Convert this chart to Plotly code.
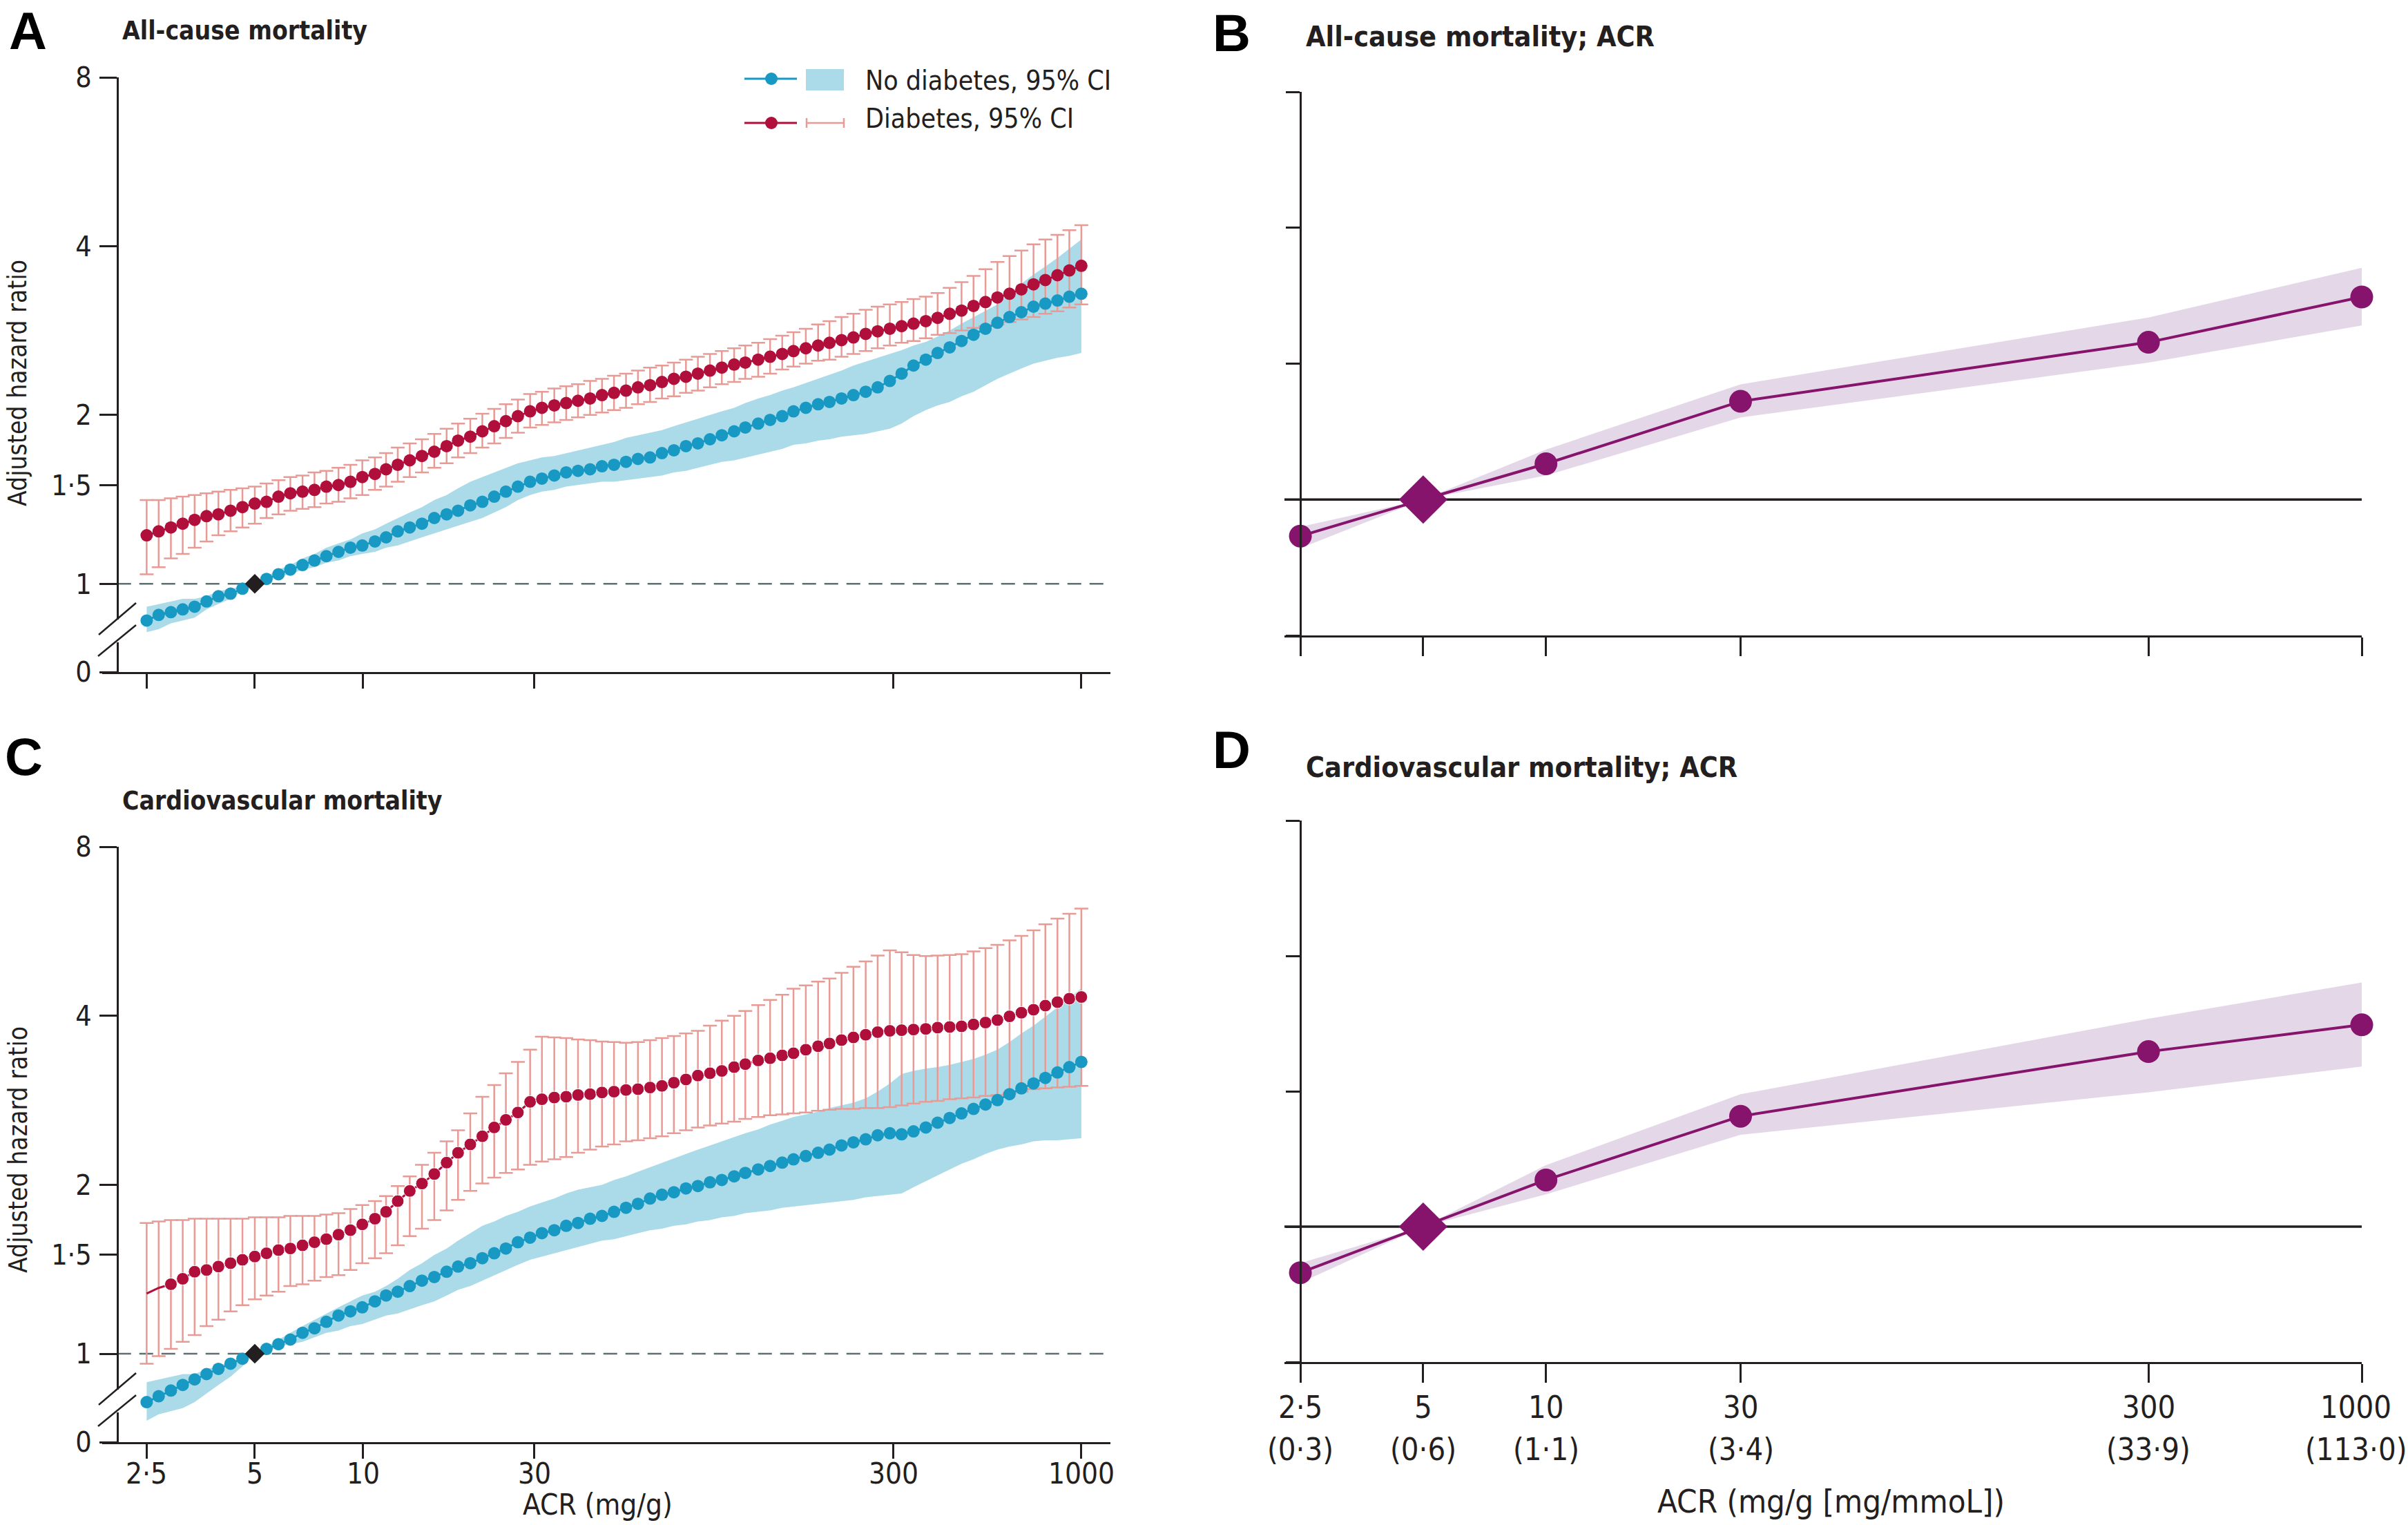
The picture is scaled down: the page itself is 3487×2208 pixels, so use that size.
import math
import plotly.graph_objects as go

W, H = 3487, 2208

# ---- data --------------------------------------------------------------
acr = [2.5, 2.7, 2.92, 3.15, 3.4, 3.67, 3.96, 4.28, 4.62, 5,
       5.39, 5.82, 6.28, 6.79, 7.33, 7.91, 8.55, 9.23, 9.96, 10.8,
       11.6, 12.5, 13.5, 14.6, 15.8, 17.1, 18.4, 19.9, 21.5, 23.2,
       25.0, 27.0, 29.2, 31.5, 34.1, 36.8, 39.7, 42.9, 46.3, 50.0,
       54.0, 58.3, 63.0, 68.0, 73.4, 79.3, 85.6, 92.5, 99.8, 108,
       116, 126, 136, 147, 158, 171, 185, 199, 215, 232,
       251, 271, 293, 316, 341, 369, 398, 430, 464, 501,
       541, 584, 631, 681, 736, 794, 858, 926, 1000]

# A: all-cause mortality
a_nodm = [0.86, 0.88, 0.89, 0.90, 0.91, 0.93, 0.95, 0.96, 0.98, 1.00,
          1.02, 1.04, 1.06, 1.08, 1.10, 1.12, 1.14, 1.16, 1.17, 1.19,
          1.21, 1.24, 1.26, 1.28, 1.31, 1.33, 1.35, 1.38, 1.40, 1.43,
          1.46, 1.49, 1.52, 1.54, 1.56, 1.58, 1.59, 1.60, 1.62, 1.63,
          1.65, 1.67, 1.68, 1.71, 1.73, 1.76, 1.78, 1.81, 1.84, 1.87,
          1.90, 1.93, 1.96, 1.99, 2.03, 2.06, 2.09, 2.11, 2.14, 2.17,
          2.20, 2.24, 2.30, 2.37, 2.45, 2.51, 2.58, 2.64, 2.71, 2.78,
          2.85, 2.92, 2.99, 3.05, 3.12, 3.16, 3.20, 3.25, 3.29]
a_nodm_lo = [0.82, 0.83, 0.85, 0.86, 0.87, 0.90, 0.92, 0.94, 0.97, 1.00,
             1.01, 1.03, 1.04, 1.06, 1.07, 1.09, 1.10, 1.12, 1.13, 1.14,
             1.16, 1.17, 1.19, 1.21, 1.23, 1.25, 1.27, 1.29, 1.31, 1.34,
             1.37, 1.41, 1.44, 1.46, 1.47, 1.49, 1.50, 1.51, 1.52, 1.52,
             1.53, 1.54, 1.55, 1.56, 1.58, 1.59, 1.61, 1.63, 1.65, 1.66,
             1.68, 1.70, 1.72, 1.74, 1.77, 1.78, 1.80, 1.81, 1.83, 1.84,
             1.85, 1.87, 1.89, 1.93, 1.99, 2.04, 2.08, 2.11, 2.16, 2.20,
             2.26, 2.32, 2.37, 2.42, 2.47, 2.50, 2.53, 2.55, 2.58]
a_nodm_hi = [0.91, 0.92, 0.93, 0.94, 0.94, 0.95, 0.97, 0.98, 0.99, 1.00,
             1.03, 1.06, 1.08, 1.11, 1.13, 1.16, 1.18, 1.20, 1.23, 1.25,
             1.28, 1.31, 1.34, 1.37, 1.41, 1.44, 1.48, 1.52, 1.55, 1.58,
             1.61, 1.64, 1.66, 1.68, 1.69, 1.71, 1.73, 1.75, 1.77, 1.79,
             1.82, 1.84, 1.86, 1.88, 1.91, 1.94, 1.97, 2.00, 2.03, 2.06,
             2.10, 2.14, 2.17, 2.21, 2.24, 2.28, 2.32, 2.36, 2.40, 2.45,
             2.49, 2.53, 2.57, 2.61, 2.66, 2.70, 2.76, 2.83, 2.91, 2.99,
             3.07, 3.15, 3.29, 3.43, 3.56, 3.68, 3.81, 3.96, 4.11]
a_dm = [1.22, 1.24, 1.26, 1.28, 1.30, 1.32, 1.33, 1.35, 1.37, 1.39,
        1.40, 1.43, 1.45, 1.46, 1.47, 1.49, 1.50, 1.52, 1.55, 1.57,
        1.60, 1.63, 1.66, 1.69, 1.72, 1.76, 1.80, 1.83, 1.87, 1.91,
        1.95, 1.99, 2.03, 2.06, 2.08, 2.10, 2.12, 2.14, 2.17, 2.19,
        2.21, 2.24, 2.26, 2.29, 2.32, 2.34, 2.37, 2.40, 2.43, 2.46,
        2.48, 2.51, 2.54, 2.57, 2.60, 2.63, 2.66, 2.69, 2.72, 2.75,
        2.79, 2.82, 2.85, 2.88, 2.91, 2.94, 2.98, 3.03, 3.07, 3.13,
        3.18, 3.24, 3.29, 3.35, 3.42, 3.48, 3.55, 3.62, 3.69]
a_dm_lo = [1.04, 1.07, 1.11, 1.13, 1.16, 1.19, 1.22, 1.24, 1.26, 1.28,
           1.31, 1.33, 1.35, 1.36, 1.37, 1.39, 1.40, 1.42, 1.44, 1.47,
           1.49, 1.52, 1.55, 1.58, 1.61, 1.64, 1.68, 1.71, 1.75, 1.78,
           1.82, 1.86, 1.90, 1.92, 1.94, 1.96, 1.98, 2.00, 2.02, 2.04,
           2.06, 2.09, 2.11, 2.14, 2.16, 2.19, 2.21, 2.24, 2.27, 2.29,
           2.32, 2.34, 2.37, 2.41, 2.44, 2.47, 2.50, 2.51, 2.54, 2.57,
           2.60, 2.63, 2.66, 2.69, 2.71, 2.74, 2.78, 2.80, 2.83, 2.86,
           2.88, 2.90, 2.93, 2.96, 2.99, 3.03, 3.06, 3.11, 3.15]
a_dm_hi = [1.41, 1.41, 1.42, 1.43, 1.44, 1.45, 1.46, 1.47, 1.48, 1.49,
           1.51, 1.53, 1.55, 1.56, 1.58, 1.59, 1.61, 1.63, 1.66, 1.68,
           1.71, 1.75, 1.78, 1.81, 1.85, 1.89, 1.93, 1.97, 2.01, 2.05,
           2.09, 2.13, 2.18, 2.20, 2.23, 2.25, 2.27, 2.30, 2.32, 2.35,
           2.37, 2.40, 2.43, 2.45, 2.48, 2.51, 2.54, 2.57, 2.60, 2.63,
           2.66, 2.69, 2.73, 2.77, 2.81, 2.85, 2.90, 2.94, 2.99, 3.03,
           3.08, 3.12, 3.15, 3.18, 3.22, 3.25, 3.30, 3.37, 3.45, 3.54,
           3.64, 3.75, 3.84, 3.93, 4.03, 4.11, 4.19, 4.27, 4.36]

# C: cardiovascular mortality
c_nodm = [0.82, 0.84, 0.86, 0.88, 0.90, 0.92, 0.94, 0.96, 0.98, 1.00,
          1.02, 1.04, 1.06, 1.09, 1.11, 1.14, 1.17, 1.19, 1.21, 1.24,
          1.27, 1.29, 1.32, 1.35, 1.37, 1.40, 1.43, 1.45, 1.48, 1.51,
          1.54, 1.58, 1.61, 1.64, 1.66, 1.69, 1.71, 1.74, 1.76, 1.79,
          1.82, 1.85, 1.89, 1.92, 1.94, 1.97, 1.99, 2.02, 2.04, 2.07,
          2.10, 2.13, 2.16, 2.19, 2.22, 2.25, 2.28, 2.31, 2.35, 2.38,
          2.41, 2.45, 2.47, 2.46, 2.49, 2.53, 2.58, 2.63, 2.68, 2.73,
          2.78, 2.83, 2.90, 2.97, 3.03, 3.10, 3.17, 3.24, 3.31]
c_nodm_lo = [0.76, 0.78, 0.79, 0.80, 0.82, 0.85, 0.88, 0.91, 0.95, 1.00,
             1.01, 1.03, 1.04, 1.05, 1.07, 1.09, 1.10, 1.12, 1.13, 1.15,
             1.17, 1.18, 1.20, 1.22, 1.24, 1.27, 1.30, 1.32, 1.35, 1.38,
             1.41, 1.44, 1.47, 1.49, 1.51, 1.53, 1.55, 1.57, 1.59, 1.60,
             1.62, 1.64, 1.66, 1.67, 1.69, 1.70, 1.72, 1.73, 1.75, 1.76,
             1.78, 1.79, 1.80, 1.82, 1.83, 1.84, 1.85, 1.86, 1.87, 1.88,
             1.90, 1.91, 1.92, 1.93, 1.98, 2.03, 2.08, 2.13, 2.18, 2.22,
             2.27, 2.31, 2.34, 2.36, 2.39, 2.40, 2.40, 2.41, 2.42]
c_nodm_hi = [0.89, 0.90, 0.91, 0.92, 0.92, 0.94, 0.95, 0.97, 0.98, 1.00,
             1.03, 1.06, 1.09, 1.12, 1.15, 1.18, 1.21, 1.24, 1.27, 1.29,
             1.32, 1.36, 1.41, 1.45, 1.50, 1.54, 1.59, 1.64, 1.69, 1.72,
             1.76, 1.79, 1.83, 1.86, 1.89, 1.93, 1.96, 1.98, 2.00, 2.04,
             2.07, 2.11, 2.15, 2.19, 2.23, 2.27, 2.31, 2.35, 2.39, 2.43,
             2.47, 2.51, 2.56, 2.60, 2.64, 2.67, 2.70, 2.74, 2.77, 2.80,
             2.85, 2.93, 3.03, 3.15, 3.19, 3.22, 3.24, 3.27, 3.31, 3.35,
             3.41, 3.48, 3.59, 3.72, 3.84, 3.99, 4.14, 4.30, 4.48]
c_dm = [1.28, 1.31, 1.33, 1.36, 1.40, 1.41, 1.43, 1.45, 1.47, 1.49,
        1.51, 1.53, 1.54, 1.56, 1.58, 1.60, 1.63, 1.66, 1.70, 1.74,
        1.79, 1.87, 1.95, 2.01, 2.09, 2.19, 2.28, 2.36, 2.44, 2.53,
        2.61, 2.69, 2.81, 2.84, 2.86, 2.87, 2.89, 2.90, 2.92, 2.93,
        2.95, 2.96, 2.98, 3.00, 3.04, 3.08, 3.13, 3.16, 3.19, 3.24,
        3.28, 3.33, 3.36, 3.40, 3.43, 3.48, 3.53, 3.57, 3.62, 3.66,
        3.70, 3.74, 3.76, 3.77, 3.78, 3.79, 3.81, 3.82, 3.83, 3.86,
        3.89, 3.93, 3.99, 4.05, 4.10, 4.17, 4.23, 4.29, 4.32]
c_dm_lo = [0.96, 0.99, 1.02, 1.05, 1.08, 1.12, 1.15, 1.19, 1.22, 1.25,
           1.27, 1.29, 1.32, 1.33, 1.35, 1.37, 1.38, 1.41, 1.45, 1.48,
           1.51, 1.56, 1.62, 1.67, 1.73, 1.80, 1.88, 1.95, 2.01, 2.06,
           2.10, 2.13, 2.17, 2.20, 2.22, 2.24, 2.28, 2.31, 2.34, 2.36,
           2.39, 2.40, 2.42, 2.44, 2.47, 2.50, 2.53, 2.55, 2.57, 2.59,
           2.62, 2.64, 2.66, 2.67, 2.68, 2.69, 2.71, 2.72, 2.73, 2.73,
           2.74, 2.74, 2.75, 2.77, 2.79, 2.81, 2.82, 2.84, 2.85, 2.86,
           2.88, 2.89, 2.91, 2.93, 2.96, 2.97, 2.98, 2.99, 3.00]
c_dm_hi = [1.71, 1.72, 1.73, 1.73, 1.74, 1.74, 1.74, 1.74, 1.74, 1.75,
           1.75, 1.75, 1.76, 1.76, 1.76, 1.77, 1.78, 1.81, 1.84, 1.87,
           1.91, 1.99, 2.07, 2.17, 2.28, 2.39, 2.50, 2.68, 2.87, 3.01,
           3.16, 3.31, 3.48, 3.67, 3.66, 3.65, 3.63, 3.62, 3.60, 3.59,
           3.58, 3.59, 3.62, 3.65, 3.68, 3.72, 3.76, 3.84, 3.92, 4.00,
           4.08, 4.18, 4.27, 4.36, 4.47, 4.53, 4.60, 4.66, 4.77, 4.89,
           5.00, 5.12, 5.23, 5.19, 5.13, 5.11, 5.12, 5.13, 5.15, 5.21,
           5.28, 5.35, 5.45, 5.55, 5.68, 5.82, 5.96, 6.08, 6.21]

# B and D: pooled ACR categories
acr_cat = [2.5, 5, 10, 30, 300, 1000]
acr_mmol = ["0·3", "0·6", "1·1", "3·4", "33·9", "113·0"]
acr_lab = ["2·5", "5", "10", "30", "300", "1000"]
b_hr = [0.83, 1.00, 1.20, 1.65, 2.23, 2.81]
b_lo = [0.78, 1.00, 1.13, 1.52, 2.01, 2.43]
b_hi = [0.87, 1.00, 1.29, 1.80, 2.53, 3.26]
d_hr = [0.79, 1.00, 1.27, 1.76, 2.45, 2.81]
d_lo = [0.75, 1.00, 1.18, 1.60, 1.99, 2.27]
d_hi = [0.83, 1.00, 1.37, 1.97, 2.90, 3.49]

hr_ticks = [0.696, 1, 1.5, 2, 4, 8]
hr_text = ["0", "1", "1·5", "2", "4", "8"]

# ---- style -------------------------------------------------------------
INK = "#231f20"
BLUE = "#1799c4"
BAND = "#abdbe9"
RED = "#b10f3b"
PINK = "#e89a95"
PURPLE = "#86136c"
LILAC = "#e4d8e8"
GREY = "#5f6f71"
TICKF = "DejaVu Sans Condensed, DejaVu Sans, sans-serif"


def fx(p):
    return p / W


def fy(p):
    return 1 - p / H


fig = go.Figure()


def curve_panel(xa, ya, nodm, nodm_lo, nodm_hi, dm, dm_lo, dm_hi, red_sizes):
    fig.add_trace(go.Scatter(x=acr + acr[::-1], y=nodm_hi + nodm_lo[::-1],
                             fill="toself", fillcolor=BAND, mode="lines",
                             line=dict(width=0), xaxis=xa, yaxis=ya,
                             hoverinfo="skip"))
    fig.add_trace(go.Scatter(x=[2.07, 1215], y=[1, 1], mode="lines",
                             line=dict(color=GREY, width=2.5, dash="20px,12px"),
                             xaxis=xa, yaxis=ya))
    fig.add_trace(go.Scatter(
        x=acr, y=dm, mode="markers", xaxis=xa, yaxis=ya,
        marker=dict(size=2, color="rgba(0,0,0,0)"),
        error_y=dict(type="data", symmetric=False,
                     array=[h - m for h, m in zip(dm_hi, dm)],
                     arrayminus=[m - l for m, l in zip(dm, dm_lo)],
                     color=PINK, thickness=2.5, width=10)))
    fig.add_trace(go.Scatter(x=acr, y=nodm, mode="lines+markers",
                             line=dict(color=BLUE, width=3),
                             marker=dict(color=BLUE, size=18, opacity=1),
                             xaxis=xa, yaxis=ya, cliponaxis=False))
    fig.add_trace(go.Scatter(x=acr, y=dm, mode="lines+markers",
                             line=dict(color=RED, width=3),
                             marker=dict(color=RED, size=red_sizes, opacity=1),
                             xaxis=xa, yaxis=ya, cliponaxis=False))
    fig.add_trace(go.Scatter(x=[5], y=[1], mode="markers",
                             marker=dict(symbol="diamond", size=22, color=INK),
                             xaxis=xa, yaxis=ya, cliponaxis=False))


def pooled_panel(xa, ya, hr, lo, hi):
    fig.add_trace(go.Scatter(x=acr_cat + acr_cat[::-1], y=hi + lo[::-1],
                             fill="toself", fillcolor=LILAC, mode="lines",
                             line=dict(width=0), xaxis=xa, yaxis=ya))
    fig.add_trace(go.Scatter(x=[2.285, 1003], y=[1, 1], mode="lines",
                             line=dict(color=INK, width=3.5),
                             xaxis=xa, yaxis=ya, cliponaxis=False))
    fig.add_trace(go.Scatter(
        x=acr_cat, y=hr, mode="lines+markers", xaxis=xa, yaxis=ya,
        line=dict(color=PURPLE, width=4),
        marker=dict(color=PURPLE, opacity=1, line=dict(width=0),
                    symbol=["circle", "diamond", "circle", "circle", "circle", "circle"],
                    size=[33, 54, 33, 33, 33, 33]),
        cliponaxis=False))


curve_panel("x", "y", a_nodm, a_nodm_lo, a_nodm_hi, a_dm, a_dm_lo, a_dm_hi, 18)
curve_panel("x3", "y3", c_nodm, c_nodm_lo, c_nodm_hi, c_dm, c_dm_lo, c_dm_hi,
            [0, 0] + [18] * (len(acr) - 2))
pooled_panel("x2", "y2", b_hr, b_lo, b_hi)
pooled_panel("x4", "y4", d_hr, d_lo, d_hi)

axis_common = dict(type="log", showgrid=False, zeroline=False, showline=True,
                   automargin=False, showticklabels=False,
                   linecolor=INK, linewidth=3, ticks="outside", tickwidth=3,
                   tickcolor=INK)

curve_x = dict(axis_common, domain=[fx(148), fx(1608)],
               range=[math.log10(1.88), math.log10(1205)],
               tickvals=acr_cat, ticklen=21)
curve_y = dict(axis_common, anchor="free", position=fx(170),
               range=[math.log10(0.696), math.log10(8)],
               tickvals=hr_ticks, ticktext=hr_text, ticklen=25,
               showticklabels=True, ticklabelstandoff=3,
               tickfont=dict(family=TICKF, size=41, color=INK))
pool_x = dict(axis_common, domain=[fx(1860), fx(3420)],
              range=[math.log10(2.285), math.log10(1000)],
              tickvals=acr_cat, ticklen=27)
pool_y = dict(axis_common, anchor="free", position=fx(1883),
              range=[math.log10(0.5), math.log10(8)],
              tickvals=[0.5, 1, 2, 4, 8], ticklen=20)

fig.update_layout(
    width=W, height=H, margin=dict(l=0, r=0, t=0, b=0, autoexpand=False),
    paper_bgcolor="white", plot_bgcolor="white", showlegend=False,
    xaxis=dict(curve_x, anchor="y"),
    yaxis=dict(curve_y, domain=[fy(973), fy(112)]),
    xaxis3=dict(curve_x, anchor="y3"),
    yaxis3=dict(curve_y, domain=[fy(2088), fy(1226)]),
    xaxis2=dict(pool_x, anchor="y2"),
    yaxis2=dict(pool_y, domain=[fy(920), fy(133)]),
    xaxis4=dict(pool_x, anchor="y4"),
    yaxis4=dict(pool_y, domain=[fy(1972), fy(1188)]),
)

shapes = []


def seg(x0, y0, x1, y1, color=INK, width=3):
    shapes.append(dict(type="line", xref="paper", yref="paper",
                       x0=fx(x0), y0=fy(y0), x1=fx(x1), y1=fy(y1),
                       line=dict(color=color, width=width), layer="above"))


# axis breaks on the curve panels
for dy in (0, 1115):
    seg(170, 897 + dy, 170, 930 + dy, color="white", width=6)
    seg(143, 919 + dy, 197, 873 + dy, width=2.5)
    seg(142, 950 + dy, 197, 905 + dy, width=2.5)

# legend symbols
seg(1078, 114, 1154, 114, color=BLUE, width=3)
shapes.append(dict(type="circle", xref="paper", yref="paper", x0=fx(1108), x1=fx(1126),
                   y0=fy(123), y1=fy(105), fillcolor=BLUE, line=dict(width=0)))
shapes.append(dict(type="rect", xref="paper", yref="paper", x0=fx(1167), x1=fx(1222),
                   y0=fy(131), y1=fy(100), fillcolor=BAND, line=dict(width=0)))
seg(1078, 178, 1154, 178, color=RED, width=3)
shapes.append(dict(type="circle", xref="paper", yref="paper", x0=fx(1108), x1=fx(1126),
                   y0=fy(187), y1=fy(169), fillcolor=RED, line=dict(width=0)))
seg(1168, 178, 1222, 178, color=PINK, width=2.5)
seg(1168, 171, 1168, 185, color=PINK, width=2.5)
seg(1222, 171, 1222, 185, color=PINK, width=2.5)
fig.update_layout(shapes=shapes)

ann = []


def text(s, x, y, size, family=TICKF, xanchor="left", angle=0, bold=False,
         color=INK, yanchor="middle"):
    ann.append(dict(text=f"<b>{s}</b>" if bold else s, x=fx(x), y=fy(y),
                    xref="paper", yref="paper", showarrow=False,
                    xanchor=xanchor, yanchor=yanchor, textangle=angle,
                    font=dict(family=family, size=size, color=color)))


def tick_label(s, v, xref, y, size, shift=0):
    ann.append(dict(text=s, x=math.log10(v), xref=xref, y=fy(y), yref="paper",
                    showarrow=False, xanchor="center", yanchor="middle", xshift=shift,
                    font=dict(family=TICKF, size=size, color=INK)))


LETTERF = "Liberation Sans, Arial, sans-serif"
text("A", 40, 0, 76, LETTERF, "center", bold=True, color="black", yanchor="top")
text("B", 1783, 47, 76, LETTERF, "center", bold=True, color="black")
text("C", 34, 1095, 76, LETTERF, "center", bold=True, color="black")
text("D", 1783, 1085, 76, LETTERF, "center", bold=True, color="black")

text("All-cause mortality", 175, 45, 37, bold=True)
text("Cardiovascular mortality", 175, 1159, 37, bold=True)
text("All-cause mortality; ACR", 1889, 53, 41, bold=True)
text("Cardiovascular mortality; ACR", 1889, 1111, 41, bold=True)

text("Adjusted hazard ratio", 26, 555, 37, xanchor="center", angle=-90)
text("Adjusted hazard ratio", 26, 1665, 37, xanchor="center", angle=-90)

# tick labels placed through the log x scales
for v, lab in zip(acr_cat, acr_lab):
    tick_label(lab, v, "x3", 2133, 42)
for i, (v, lab, mm) in enumerate(zip(acr_cat, acr_lab, acr_mmol)):
    edge = -9 if i == len(acr_cat) - 1 else 0
    tick_label(lab, v, "x4", 2037, 45, edge)
    tick_label(f"({mm})", v, "x4", 2098, 45, edge)

text("ACR (mg/g)", 865, 2178, 42, xanchor="center")
text("ACR (mg/g [mg/mmoL])", 2651, 2173, 47, xanchor="center")

text("No diabetes, 95% CI", 1251, 116, 39)
text("Diabetes, 95% CI", 1251, 171, 39)
fig.update_layout(annotations=ann)

fig.write_html("out.html", config={"displayModeBar": False},
               post_script="document.body.style.margin='0';document.body.style.overflow='hidden';")
